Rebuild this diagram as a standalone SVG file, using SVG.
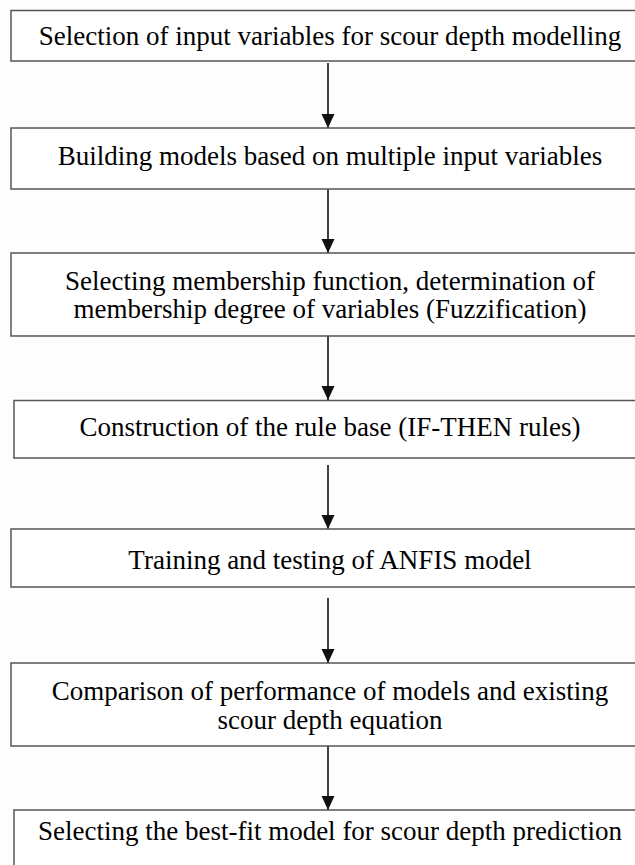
<svg xmlns="http://www.w3.org/2000/svg" width="635" height="865" viewBox="0 0 635 865">
<defs>
<style>
.box{fill:#fff;stroke:#555;stroke-width:1.5}
.t{font-family:"Liberation Serif","Times New Roman",serif;font-size:27px;fill:#000;text-anchor:middle}
.c{stroke:#111;stroke-width:1.6;fill:none;marker-end:url(#ah)}
</style>
<marker id="ah" markerUnits="userSpaceOnUse" markerWidth="14" markerHeight="14" refX="14" refY="7" orient="auto" viewBox="0 0 14 14">
<path d="M0,0.5 L14,7 L0,13.5 Z" fill="#111"/>
</marker>
</defs>
<rect width="635" height="865" fill="#fdfdfd"/>
<g id="connectors">
<line class="c" x1="328" y1="63" x2="328" y2="128"/>
<line class="c" x1="328" y1="189" x2="328" y2="253"/>
<line class="c" x1="328" y1="336" x2="328" y2="400"/>
<line class="c" x1="328" y1="465" x2="328" y2="529"/>
<line class="c" x1="328" y1="598" x2="328" y2="663"/>
<line class="c" x1="328" y1="746" x2="328" y2="810"/>
</g>
<g id="n1">
<rect class="box" x="11" y="10.5" width="626" height="50.5"/>
<text class="t" x="330" y="45">Selection of input variables for scour depth modelling</text>
</g>
<g id="n2">
<rect class="box" x="11" y="128" width="626" height="61"/>
<text class="t" x="330" y="165">Building models based on multiple input variables</text>
</g>
<g id="n3">
<rect class="box" x="11" y="253" width="626" height="83"/>
<text class="t" x="330" y="290">Selecting membership function, determination of</text>
<text class="t" x="330" y="318">membership degree of variables (Fuzzification)</text>
</g>
<g id="n4">
<rect class="box" x="14" y="400.5" width="623" height="57.5"/>
<text class="t" x="330" y="436">Construction of the rule base (IF-THEN rules)</text>
</g>
<g id="n5">
<rect class="box" x="11" y="529" width="626" height="58"/>
<text class="t" x="330" y="569">Training and testing of ANFIS model</text>
</g>
<g id="n6">
<rect class="box" x="11" y="663" width="626" height="83"/>
<text class="t" x="330" y="700">Comparison of performance of models and existing</text>
<text class="t" x="330" y="729">scour depth equation</text>
</g>
<g id="n7">
<rect class="box" x="14" y="810" width="623" height="70"/>
<text class="t" x="330" y="840">Selecting the best-fit model for scour depth prediction</text>
</g>
</svg>
